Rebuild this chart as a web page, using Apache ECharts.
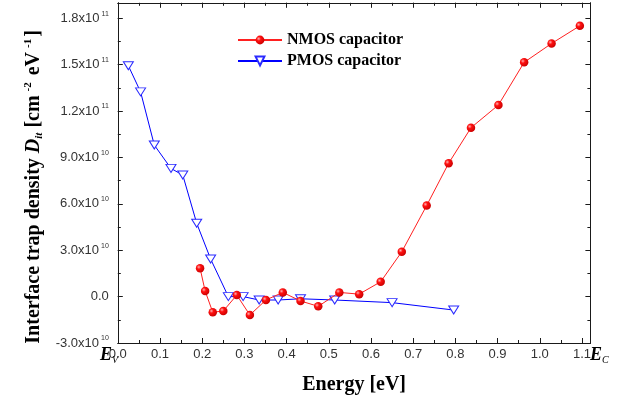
<!DOCTYPE html>
<html>
<head>
<meta charset="utf-8">
<script src="https://cdn.jsdelivr.net/npm/echarts@6/dist/echarts.min.js"></script>
<style>
html,body{margin:0;padding:0;background:#fff}
#chart{width:640px;height:405px}
</style>
</head>
<body>
<div id="chart"></div>
<script>
// Interface trap density vs. energy in the band gap
const nmosEnergy = [0.195, 0.207, 0.225, 0.250, 0.282, 0.313, 0.351, 0.391, 0.433, 0.475, 0.525,
                    0.572, 0.623, 0.673, 0.732, 0.784, 0.837, 0.902, 0.963, 1.028, 1.095];
const nmosDit = [1.83e10, 0.36e10, -1.01e10, -0.93e10, 0.10e10, -1.19e10, -0.22e10, 0.27e10, -0.28e10,
                 -0.63e10, 0.27e10, 0.16e10, 0.96e10, 2.90e10, 5.89e10, 8.62e10, 10.92e10, 12.39e10,
                 15.15e10, 16.37e10, 17.51e10];

const pmosEnergy = [0.025, 0.054, 0.0865, 0.126, 0.154, 0.187, 0.220, 0.262, 0.297, 0.335, 0.380,
                    0.433, 0.514, 0.650, 0.796];
const pmosDit = [14.93e10, 13.24e10, 9.80e10, 8.29e10, 7.86e10, 4.74e10, 2.43e10, 0.0, 0.0, -0.22e10,
                 -0.22e10, -0.14e10, -0.22e10, -0.39e10, -0.87e10];

const xTickLabels = ['0.0', '0.1', '0.2', '0.3', '0.4', '0.5', '0.6', '0.7', '0.8', '0.9', '1.0', '1.1'];
const yTickValues = [-3e10, 0, 3e10, 6e10, 9e10, 1.2e11, 1.5e11, 1.8e11];
const yTickMantissa = ['-3.0', '0.0', '3.0', '6.0', '9.0', '1.2', '1.5', '1.8'];
const yTickExponent = ['10', '', '10', '10', '10', '11', '11', '11'];

const seriesNames = ['NMOS capacitor', 'PMOS capacitor'];

const X_MIN = 0, X_MAX = 1.12, Y_MIN = -3e10, Y_MAX = 1.9e11;
const FRAME = '#1a1a1a';
const SERIF = '"Liberation Serif", "Times New Roman", serif';
const SANS = '"Liberation Sans", Arial, sans-serif';

function pairs(xs, ys) {
  return xs.map((x, i) => [x, ys[i]]);
}

function xLabel(v) {
  const i = Math.round(v * 10);
  if (Math.abs(v * 10 - i) < 1e-6 && i >= 0 && i < xTickLabels.length) return xTickLabels[i];
  return '';
}

function yLabel(v) {
  for (let i = 0; i < yTickValues.length; i++) {
    if (Math.abs(v - yTickValues[i]) < 1e6) {
      return yTickExponent[i]
        ? '{m|' + yTickMantissa[i] + 'x10}{e|' + yTickExponent[i] + '}'
        : '{m|' + yTickMantissa[i] + '}';
    }
  }
  return '';
}

// one axis of the frame: major ticks (optionally labelled) or minor ticks only
function xAxisOf(position, interval, tickLen, withLine, labels) {
  return {
    type: 'value', min: X_MIN, max: X_MAX, interval: interval, position: position,
    axisLine: { show: withLine, onZero: false, lineStyle: { color: FRAME, width: 1 } },
    axisTick: { show: true, inside: true, length: tickLen, lineStyle: { color: FRAME, width: 1 } },
    axisLabel: labels ? {
      show: true, margin: 5, formatter: xLabel, color: '#333',
      fontFamily: SANS, fontSize: 13
    } : { show: false },
    splitLine: { show: false }
  };
}

function yAxisOf(position, interval, tickLen, withLine, labels) {
  return {
    type: 'value', min: Y_MIN, max: Y_MAX, interval: interval, position: position,
    axisLine: { show: withLine, onZero: false, lineStyle: { color: FRAME, width: 1 } },
    axisTick: { show: true, inside: true, length: tickLen, lineStyle: { color: FRAME, width: 1 } },
    axisLabel: labels ? {
      show: true, margin: 9, formatter: yLabel, color: '#333',
      rich: {
        m: { fontFamily: SANS, fontSize: 13, lineHeight: 16, color: '#333', verticalAlign: 'middle' },
        e: { fontFamily: SANS, fontSize: 7, lineHeight: 7, color: '#333', verticalAlign: 'top', padding: [0, 0, 0, 2] }
      }
    } : { show: false },
    splitLine: { show: false }
  };
}

const xMain = xAxisOf('bottom', 0.1, 5, true, true);
xMain.name = 'Energy [eV]';
xMain.nameLocation = 'middle';
xMain.nameGap = 31;
xMain.nameTextStyle = { fontFamily: SERIF, fontWeight: 'bold', fontSize: 20, color: '#000', lineHeight: 22 };

const yMain = yAxisOf('left', 3e10, 5, true, true);
yMain.name = '{n|Interface trap density }{d|D}{sub|it}{n| [cm}{sup|-2}{n| eV}{sup|-1}{n|]}';
yMain.nameLocation = 'middle';
yMain.nameRotate = 90;
yMain.nameGap = 73;
yMain.nameTextStyle = {
  padding: [0, 28, 0, 0],
  rich: {
    n: { fontFamily: SERIF, fontWeight: 'bold', fontSize: 20, color: '#000', lineHeight: 22, verticalAlign: 'middle' },
    d: { fontFamily: SERIF, fontWeight: 'bold', fontStyle: 'italic', fontSize: 20, color: '#000', lineHeight: 22, verticalAlign: 'middle' },
    sub: { fontFamily: SERIF, fontWeight: 'bold', fontStyle: 'italic', fontSize: 11, color: '#000', lineHeight: 12, verticalAlign: 'bottom' },
    sup: { fontFamily: SERIF, fontWeight: 'bold', fontSize: 11, color: '#000', lineHeight: 12, verticalAlign: 'top', padding: [0, 2, 0, 4] }
  }
};

const sphere = {
  type: 'radial', x: 0.35, y: 0.35, r: 0.7,
  colorStops: [
    { offset: 0, color: '#ffb0b0' },
    { offset: 0.35, color: '#ff1010' },
    { offset: 1, color: '#c80000' }
  ]
};

const edgeLabel = {
  e: { fontFamily: SERIF, fontWeight: 'bold', fontStyle: 'italic', fontSize: 18, fill: '#000', lineHeight: 20, verticalAlign: 'middle' },
  s: { fontFamily: SERIF, fontStyle: 'italic', fontSize: 10, fill: '#000', lineHeight: 10, verticalAlign: 'bottom' }
};

const chart = echarts.init(document.getElementById('chart'), null, { renderer: 'canvas' });
chart.setOption({
  animation: false,
  backgroundColor: '#fff',
  grid: { left: 117.8, right: 49.6, top: 2.8, bottom: 62 },
  legend: {
    orient: 'vertical', left: 232, top: 27,
    itemWidth: 44, itemHeight: 11, itemGap: 5,
    data: seriesNames,
    textStyle: { fontFamily: SERIF, fontWeight: 'bold', fontSize: 16, color: '#000', lineHeight: 16 }
  },
  xAxis: [
    xMain,
    xAxisOf('bottom', 0.05, 3, false, false),
    xAxisOf('top', 0.1, 5, true, false),
    xAxisOf('top', 0.05, 3, false, false)
  ],
  yAxis: [
    yMain,
    yAxisOf('left', 1.5e10, 3, false, false),
    yAxisOf('right', 3e10, 5, true, false),
    yAxisOf('right', 1.5e10, 3, false, false)
  ],
  graphic: [
    { type: 'text', x: 100, y: 355, style: { text: '{e|E}{s|V}', rich: edgeLabel, verticalAlign: 'middle' } },
    { type: 'text', x: 590, y: 355, style: { text: '{e|E}{s|C}', rich: edgeLabel, verticalAlign: 'middle' } }
  ],
  series: [
    {
      name: seriesNames[1], type: 'line', xAxisIndex: 0, yAxisIndex: 0,
      data: pairs(pmosEnergy, pmosDit),
      symbol: 'triangle', symbolRotate: 180, symbolSize: [10, 8],
      lineStyle: { color: '#0000ff', width: 1 },
      itemStyle: { color: '#ffffff', borderColor: '#2a2aff', borderWidth: 1 },
      z: 2
    },
    {
      name: seriesNames[0], type: 'line', xAxisIndex: 0, yAxisIndex: 0,
      data: pairs(nmosEnergy, nmosDit),
      symbol: 'circle', symbolSize: 8.5,
      lineStyle: { color: '#ff2020', width: 1 },
      itemStyle: { color: sphere, borderWidth: 0 },
      z: 3
    }
  ]
});
</script>
</body>
</html>
